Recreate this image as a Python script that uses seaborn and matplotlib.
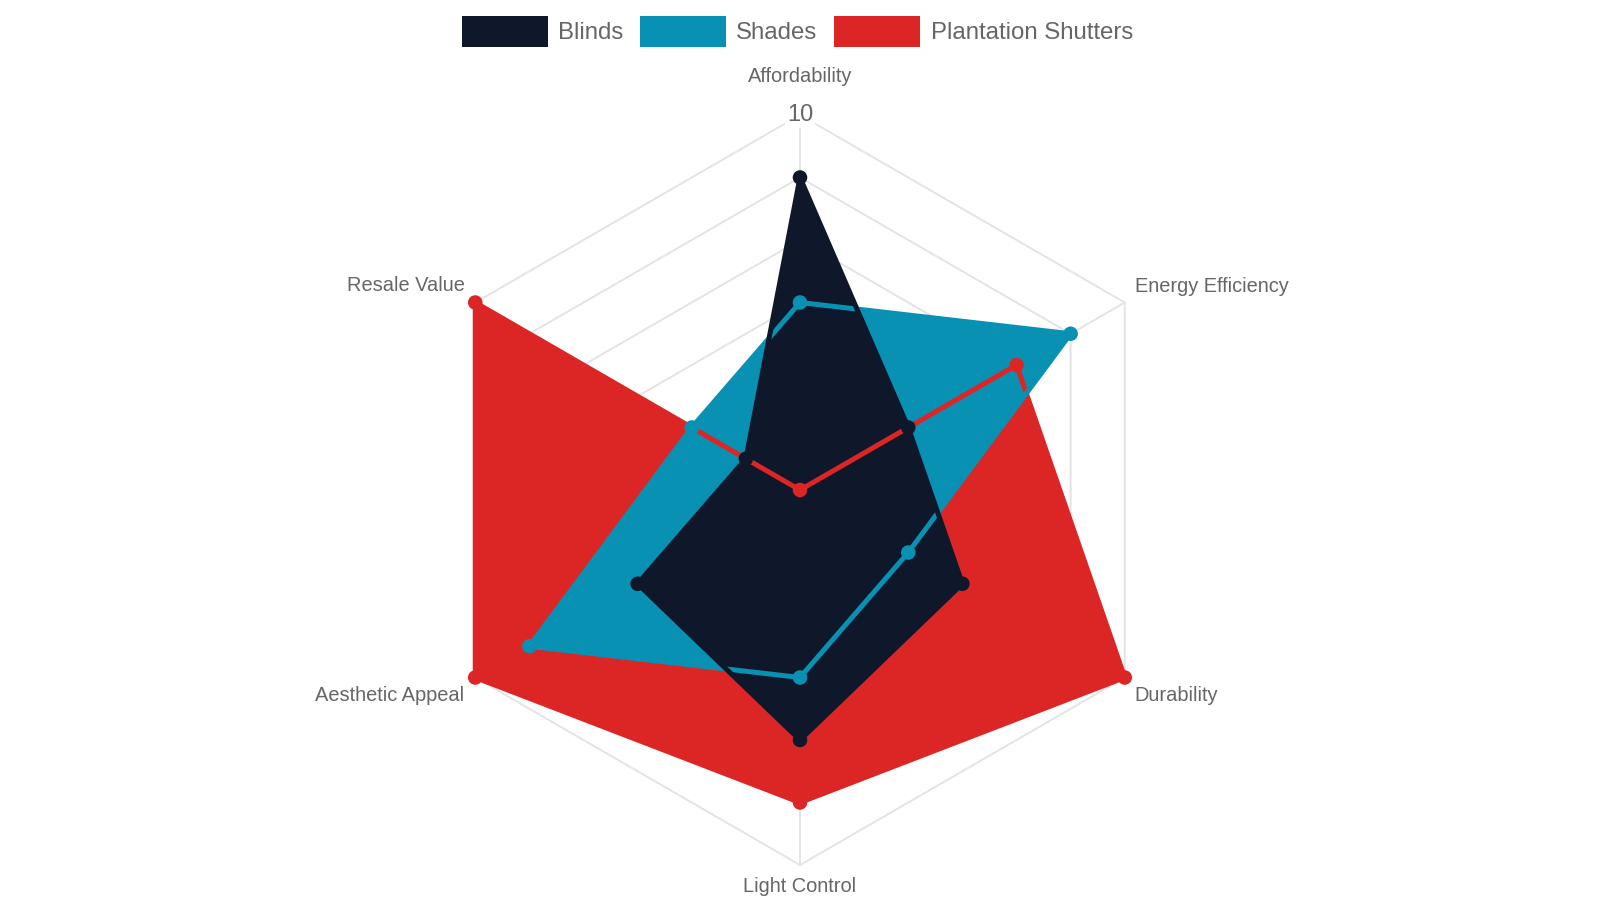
import numpy as np
import pandas as pd
import seaborn as sns
import matplotlib.pyplot as plt
from matplotlib.patches import Patch

sns.set_theme(style="white")
plt.rcParams['font.family'] = ['Liberation Sans', 'DejaVu Sans']

categories = ["Affordability", "Energy Efficiency", "Durability",
              "Light Control", "Aesthetic Appeal", "Resale Value"]
blinds = [9, 6, 7, 8, 7, 5]
shades = [7, 9, 6, 7, 9, 6]
plantation = [4, 8, 10, 9, 10, 10]
series_names = ["Blinds", "Shades", "Plantation Shutters"]
colors = {"Blinds": "#0f172a", "Shades": "#0891b2", "Plantation Shutters": "#dc2626"}
r_min, r_max = 4, 10

angles = np.linspace(0, 2 * np.pi, len(categories), endpoint=False)
closed = np.append(angles, angles[0])

fig = plt.figure(figsize=(16, 9), dpi=100)
ax = fig.add_axes([425 / 1600, 35 / 900, 750 / 1600, 750 / 900], projection='polar')
ax.set_theta_zero_location('N')
ax.set_theta_direction(-1)
ax.set_ylim(r_min, r_max)
ax.grid(False)
ax.spines['polar'].set_visible(False)
ax.set_xticks([])
ax.set_yticks([])
ax.patch.set_alpha(0)

grid_col = "#e4e4e4"
# hexagon rings + spokes
for lvl in range(r_min + 1, r_max + 1):
    ax.plot(closed, [lvl] * len(closed), color=grid_col, lw=1.4, zorder=1, clip_on=False)
for a in angles:
    ax.plot([a, a], [r_min, r_max], color=grid_col, lw=1.4, zorder=1, clip_on=False)

ax.text(0, r_max, "10", ha='center', va='center', fontsize=17, color="#666666", zorder=2,
        bbox=dict(boxstyle='square,pad=0.1', fc='white', ec='none', alpha=0.9))

data = {"Blinds": blinds, "Shades": shades, "Plantation Shutters": plantation}
z_fill = {"Plantation Shutters": 3, "Shades": 4, "Blinds": 5}
z_line = {"Plantation Shutters": 6.0, "Shades": 6.1, "Blinds": 6.2}
for name in ["Plantation Shutters", "Shades", "Blinds"]:
    vals = np.append(data[name], data[name][0])
    ax.fill(closed, vals, color=colors[name], lw=0, zorder=z_fill[name], clip_on=False)
    ax.plot(closed, vals, color=colors[name], lw=3.6, zorder=z_line[name],
            solid_joinstyle='miter', clip_on=False)

pts = pd.DataFrame({
    "theta": np.concatenate([angles] * 3),
    "value": plantation + shades + blinds,
    "series": ["Plantation Shutters"] * 6 + ["Shades"] * 6 + ["Blinds"] * 6,
})
sns.scatterplot(data=pts, x="theta", y="value", hue="series", palette=colors,
                s=110, linewidth=0, legend=False, ax=ax, zorder=7, clip_on=False)
ax.set_xlabel("")
ax.set_ylabel("")
ax.set_ylim(r_min, r_max)

# category labels
offsets = [(0, 38, 'center'), (10, 16, 'left'), (10, -18, 'left'),
           (0, -22, 'center'), (-11, -18, 'right'), (-10, 17, 'right')]
for a, lab, (dx, dy, ha) in zip(angles, categories, offsets):
    ax.annotate(lab, xy=(a, r_max), xytext=(dx, dy), textcoords='offset pixels',
                ha=ha, va='center', fontsize=14.4, color="#666666", annotation_clip=False)

handles = [Patch(facecolor=colors[n], edgecolor='none', label=n) for n in series_names]
leg = fig.legend(handles=handles, loc='upper center', bbox_to_anchor=(0.4984, 1 - 4 / 900),
                 ncol=3, frameon=False, fontsize=17.3, handlelength=3.58, handleheight=1.62,
                 handletextpad=0.42, columnspacing=0.7, borderpad=0, labelcolor="#666666")

fig.savefig("out.png", dpi=100)
